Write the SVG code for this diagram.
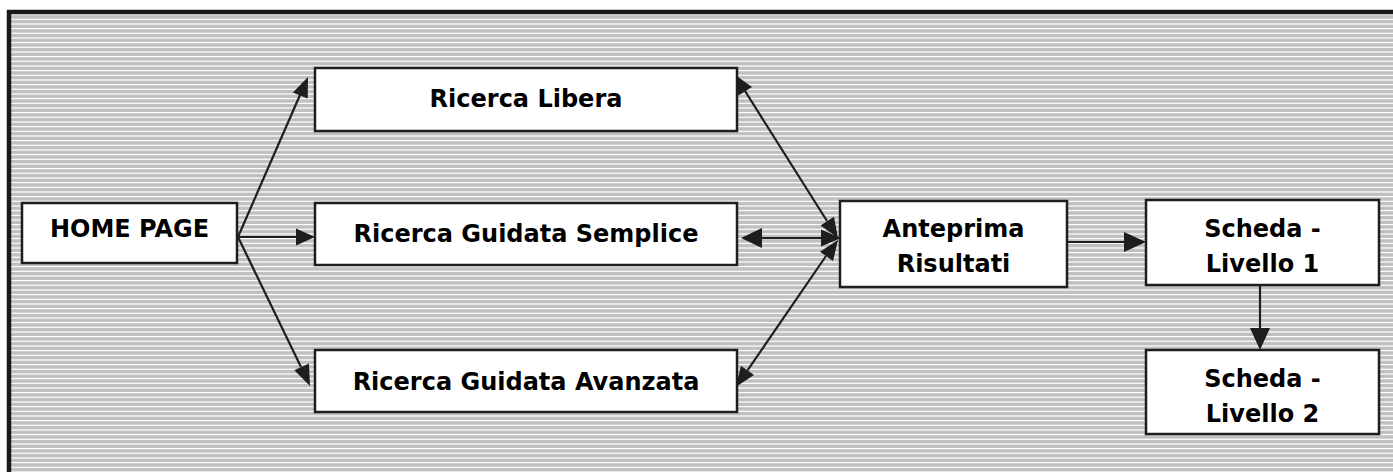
<svg xmlns="http://www.w3.org/2000/svg" width="1393" height="472" viewBox="0 0 1393 472">
<defs>
<pattern id="stripes" x="0" y="0" width="14" height="14" patternUnits="userSpaceOnUse">
<rect x="0" y="0" width="14" height="14" fill="#c0c0c0"/>
<rect x="0" y="0" width="14" height="1.2" fill="#ffffff"/>
<rect x="0" y="4.7" width="14" height="1.2" fill="#ffffff"/>
<rect x="0" y="9.4" width="14" height="1.2" fill="#ffffff"/>
</pattern>
<style>
.box{fill:#ffffff;stroke:#1e1e1e;stroke-width:2.5}
.lbl{font-family:"DejaVu Sans",Verdana,sans-serif;font-weight:bold;font-size:24px;fill:#000;text-anchor:middle}
.ln{stroke:#1e1e1e;stroke-width:2.2;fill:none}
.ah{fill:#1e1e1e;stroke:none}
</style>
</defs>
<rect x="0" y="0" width="1393" height="472" fill="#ffffff"/>
<rect x="9" y="12" width="1390" height="470" fill="url(#stripes)" stroke="#1a1a1a" stroke-width="4.5"/>
<g id="connectors">
<line class="ln" x1="238" y1="237" x2="300" y2="95"/>
<polygon class="ah" points="308,77 307.7,98.6 292.9,92.4"/>
<line class="ln" x1="238" y1="237" x2="301" y2="367"/>
<polygon class="ah" points="310,386 309,363.5 294.3,370.3"/>
<line class="ln" x1="238" y1="237" x2="298" y2="237"/>
<polygon class="ah" points="315,237 296,228.5 296,245.5"/>
<line class="ln" x1="827" y1="221" x2="745" y2="91"/>
<polygon class="ah" points="734.5,74.4 752,87 738.5,95.6"/>
<polygon class="ah" points="838,238 834,216.8 820.5,225.4"/>
<line class="ln" x1="826" y1="256" x2="747.5" y2="370.4"/>
<polygon class="ah" points="736,386.8 754,375 740.9,365.8"/>
<polygon class="ah" points="838,240 833,261 820,251.8"/>
<line class="ln" x1="760" y1="238" x2="822" y2="238"/>
<polygon class="ah" points="741,238 762,228 762,248"/>
<polygon class="ah" points="841,238 821,229.5 821,246.5"/>
<line class="ln" x1="1067" y1="242" x2="1126" y2="242"/>
<polygon class="ah" points="1146,242 1124,232 1124,252"/>
<line class="ln" x1="1260" y1="285" x2="1260" y2="330"/>
<polygon class="ah" points="1260,350 1250,328 1270,328"/>
</g>
<g id="home">
<rect class="box" x="22" y="203" width="215" height="60"/>
<text class="lbl" x="129.5" y="237">HOME PAGE</text>
</g>
<g id="libera">
<rect class="box" x="315" y="68" width="422" height="63"/>
<text class="lbl" x="526" y="107">Ricerca Libera</text>
</g>
<g id="semplice">
<rect class="box" x="315" y="203" width="422" height="62"/>
<text class="lbl" x="526" y="242">Ricerca Guidata Semplice</text>
</g>
<g id="avanzata">
<rect class="box" x="315" y="350" width="422" height="62"/>
<text class="lbl" x="526" y="390">Ricerca Guidata Avanzata</text>
</g>
<g id="anteprima">
<rect class="box" x="840" y="201" width="227" height="86"/>
<text class="lbl" x="953.5" y="237">Anteprima</text>
<text class="lbl" x="953.5" y="272">Risultati</text>
</g>
<g id="scheda1">
<rect class="box" x="1146" y="200" width="233" height="85"/>
<text class="lbl" x="1262.5" y="237">Scheda -</text>
<text class="lbl" x="1262.5" y="272">Livello 1</text>
</g>
<g id="scheda2">
<rect class="box" x="1146" y="350" width="233" height="84"/>
<text class="lbl" x="1262.5" y="387">Scheda -</text>
<text class="lbl" x="1262.5" y="422">Livello 2</text>
</g>
</svg>
